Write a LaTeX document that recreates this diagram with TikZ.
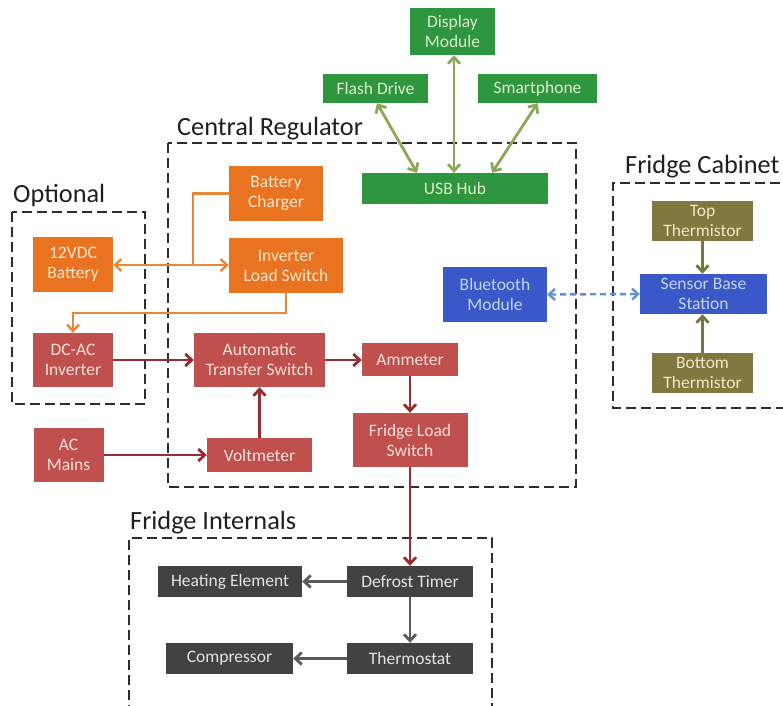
\documentclass[tikz,border=0pt]{standalone}
\usepackage{fontspec}
\setmainfont{Carlito}
\usetikzlibrary{arrows.meta}
\definecolor{gfill}{RGB}{46,150,62}
\definecolor{gtext}{RGB}{220,238,205}
\definecolor{garrow}{RGB}{138,168,88}
\definecolor{ofill}{RGB}{233,115,32}
\definecolor{otext}{RGB}{252,230,205}
\definecolor{oline}{RGB}{234,135,55}
\definecolor{rfill}{RGB}{192,80,77}
\definecolor{rtext}{RGB}{248,222,220}
\definecolor{rarrow}{RGB}{150,45,48}
\definecolor{bfill}{RGB}{58,88,200}
\definecolor{btext}{RGB}{195,212,245}
\definecolor{barrow}{RGB}{95,145,212}
\definecolor{ofill2}{RGB}{128,120,62}
\definecolor{otext2}{RGB}{240,232,200}
\definecolor{oarrow}{RGB}{122,116,62}
\definecolor{dfill}{RGB}{66,66,66}
\definecolor{dtext}{RGB}{228,228,228}
\definecolor{darrow}{RGB}{90,90,90}
\definecolor{frame}{RGB}{45,45,45}
\begin{document}
\begin{tikzpicture}[x=1pt,y=-1pt,
  box/.style={inner sep=1pt, align=center, font=\fontsize{17.5}{20}\selectfont},
  gbox/.style={box, fill=gfill, text=gtext},
  obox/.style={box, fill=ofill, text=otext},
  rbox/.style={box, fill=rfill, text=rtext},
  bbox/.style={box, fill=bfill, text=btext},
  tbox/.style={box, fill=ofill2, text=otext2},
  dbox/.style={box, fill=dfill, text=dtext},
  group/.style={draw=frame, line width=1.6pt, dash pattern=on 10pt off 5pt},
  heading/.style={anchor=base west, inner sep=0pt, text=black!88, font=\fontsize{26.3}{30}\selectfont},
  barb/.style={Straight Barb[length=6.5pt,width=12pt]},
  garr/.style={draw=garrow, line width=2.8pt, {Straight Barb[length=6.5pt,width=12pt]}-{Straight Barb[length=6.5pt,width=12pt]}},
  oarr/.style={draw=oline, line width=2.4pt},
  rarr/.style={draw=rarrow, line width=2.8pt, -{Straight Barb[length=6.5pt,width=12pt]}},
  tarr/.style={draw=oarrow, line width=2.8pt, -{Straight Barb[length=6.5pt,width=12pt]}},
  darr/.style={draw=darrow, line width=2.8pt, -{Straight Barb[length=6.5pt,width=12pt]}},
  barr/.style={draw=barrow, line width=2.4pt, dash pattern=on 6pt off 4pt, {Straight Barb[length=6pt,width=11pt]}-{Straight Barb[length=6pt,width=11pt]}}
]
\useasboundingbox[fill=white] (0,0) rectangle (783,705);

% group frames
\draw[group] (168,143) rectangle (576,487);
\draw[group] (12,212) rectangle (145,404);
\draw[group] (795,183) -- (613,183) -- (613,408) -- (795,408);
\draw[group] (129,715) -- (129,538) -- (492,538) -- (492,715);

% headings
\node[heading] (hcr) at (177,135) {Central Regulator};
\node[heading] (hop) at (13,202) {Optional};
\node[heading] (hfc) at (625,173) {Fridge Cabinet};
\node[heading] (hfi) at (130,529) {Fridge Internals};

% green
\node[gbox, minimum width=85pt, minimum height=47pt] (disp) at (452.5,31.5) {Display\\Module};
\node[gbox, minimum width=105pt, minimum height=29pt] (flash) at (375.5,88.5) {Flash Drive};
\node[gbox, minimum width=119pt, minimum height=29pt] (smart) at (537.5,88.5) {Smartphone};
\node[gbox, minimum width=186pt, minimum height=31pt] (usb) at (455,188.5) {USB Hub};

% orange
\node[obox, minimum width=94pt, minimum height=55pt] (chg) at (276,193.5) {Battery\\Charger};
\node[obox, minimum width=114pt, minimum height=55pt] (ils) at (286,265.5) {Inverter\\Load Switch};
\node[obox, minimum width=80pt, minimum height=55pt] (batt) at (73,264.5) {12VDC\\Battery};

% red
\node[rbox, minimum width=80pt, minimum height=54pt] (dcac) at (73,360) {DC-AC\\Inverter};
\node[rbox, minimum width=131pt, minimum height=54pt] (ats) at (259.5,360) {Automatic\\Transfer Switch};
\node[rbox, minimum width=96pt, minimum height=33pt] (amm) at (410,359.5) {Ammeter};
\node[rbox, minimum width=115pt, minimum height=54pt] (fls) at (410,440) {Fridge Load\\Switch};
\node[rbox, minimum width=70pt, minimum height=54pt] (acm) at (68.5,455) {AC\\Mains};
\node[rbox, minimum width=105pt, minimum height=34pt] (volt) at (259.5,455) {Voltmeter};

% blue / olive
\node[bbox, minimum width=104pt, minimum height=55pt] (bt) at (495,294.5) {Bluetooth\\Module};
\node[bbox, minimum width=127pt, minimum height=40pt] (sbs) at (703.5,294) {Sensor Base\\Station};
\node[tbox, minimum width=101pt, minimum height=40pt] (topt) at (702.5,221) {Top\\Thermistor};
\node[tbox, minimum width=101pt, minimum height=40pt] (bott) at (702.5,373) {Bottom\\Thermistor};

% dark gray
\node[dbox, minimum width=144pt, minimum height=31pt] (heat) at (230,581.5) {Heating Element};
\node[dbox, minimum width=126pt, minimum height=31pt] (defr) at (410,581.5) {Defrost Timer};
\node[dbox, minimum width=127pt, minimum height=31pt] (comp) at (229.5,658.5) {Compressor};
\node[dbox, minimum width=126pt, minimum height=31pt] (therm) at (410,658.5) {Thermostat};

% green connectors
\draw[garr] ([xshift=1.5pt]flash.south) -- ([xshift=-38pt]usb.north);
\draw[garr] ([xshift=1.5pt]disp.south) -- ([xshift=-1pt]usb.north);
\draw[garr] (smart.south) -- ([xshift=37pt]usb.north);

% orange connectors
\coordinate (j) at (193,265);
\draw[oarr, {Straight Barb[length=6.5pt,width=12pt]}-{Straight Barb[length=6.5pt,width=12pt]}] (batt.east |- j) -- (ils.west |- j);
\draw[oarr] (chg.west) -| (j);
\draw[oarr, -{Straight Barb[length=6.5pt,width=12pt]}] (ils.south) -- ++(0,20) -| (dcac.north);

% red connectors
\draw[rarr] (dcac.east) -- (ats.west);
\draw[rarr] (ats.east) -- (amm.west |- ats.east);
\draw[rarr] (amm.south) -- (fls.north);
\draw[rarr] (volt.north) -- (ats.south);
\draw[rarr] (acm.east) -- (volt.west);
\draw[rarr] (fls.south) -- (defr.north);

% blue / olive connectors
\draw[barr] (bt.east) -- (sbs.west);
\draw[tarr] (topt.south) -- (sbs.north -| topt.south);
\draw[tarr] (bott.north) -- (sbs.south -| bott.north);

% gray connectors
\draw[darr] (defr.west) -- (heat.east);
\draw[darr] (defr.south) -- (therm.north);
\draw[darr] (therm.west) -- (comp.east);
\end{tikzpicture}
\end{document}
